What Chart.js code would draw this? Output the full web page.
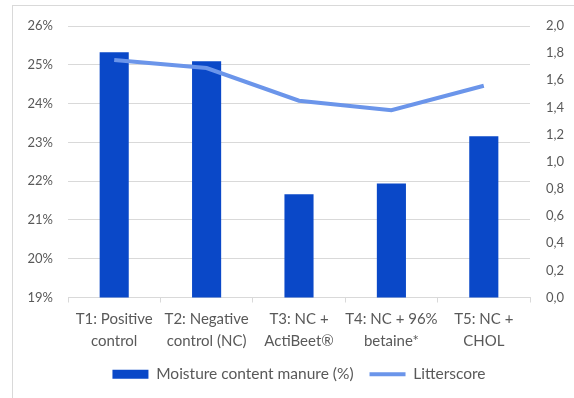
<!DOCTYPE html>
<html>
<head>
<meta charset="utf-8">
<script src="https://cdn.jsdelivr.net/npm/chart.js@4"></script>
<style>
  html, body { margin: 0; padding: 0; background: #ffffff; overflow: hidden; }
  #frame { position: absolute; left: 12px; top: 5px; width: 640px; height: 520px; border: 1px solid #d9d9d9; }
  #wrap { position: absolute; left: 0; top: 0; width: 574px; height: 398px; }
</style>
</head>
<body>
<div id="frame"></div>
<div id="wrap"><canvas id="myChart" width="574" height="398"></canvas></div>
<script>
var categories = [
    ['T1: Positive', 'control'],
    ['T2: Negative', 'control (NC)'],
    ['T3: NC +', 'ActiBeet\u00ae'],
    ['T4: NC + 96%', 'betaine*'],
    ['T5: NC +', 'CHOL']
];
var moisture = [25.32, 25.09, 21.66, 21.94, 23.16]; // % moisture content manure
var litterscore = [1.75, 1.69, 1.45, 1.38, 1.56];

var barColor = '#0a48c8';
var lineColor = '#6b95ea';
var textColor = '#595959';
var gridColor = '#d9d9d9';

Chart.defaults.font.family = 'Lato, "Open Sans", sans-serif';
Chart.defaults.font.size = 13;
Chart.defaults.color = textColor;

//combined bar + line chart, line on the right axis
var ctx = document.getElementById('myChart');
var myChart = new Chart(ctx, {
    data: {
        labels: categories,
        datasets: [{
            type: 'bar',
            label: 'Moisture content manure (%)',
            data: moisture,
            backgroundColor: barColor,
            borderWidth: 0,
            yAxisID: 'y',
            barPercentage: 0.63,
            categoryPercentage: 0.5,
            order: 1
        }, {
            type: 'line',
            label: 'Litterscore',
            data: litterscore,
            borderColor: lineColor,
            backgroundColor: lineColor,
            borderWidth: 4,
            pointRadius: 0,
            tension: 0,
            yAxisID: 'y1',
            order: 0
        }]
    },
    options: {
        responsive: false,
        animation: false,
        layout: { padding: { top: 26, left: 0, right: 0, bottom: 6 } },
        plugins: {
            tooltip: { enabled: false },
            legend: {
                position: 'bottom',
                fullSize: false,
                labels: {
                    usePointStyle: true,
                    pointStyleWidth: 36,
                    boxHeight: 9,
                    padding: 16,
                    color: textColor,
                    font: { size: 15.5 },
                    sort: function(a, b) { return a.datasetIndex - b.datasetIndex; },
                    generateLabels: function(chart) {
                        var items = Chart.defaults.plugins.legend.labels.generateLabels(chart);
                        items.forEach(function(item) {
                            if (item.datasetIndex === 1) {
                                item.pointStyle = 'line';
                                item.lineWidth = 4;
                                item.strokeStyle = lineColor;
                                item.fillStyle = lineColor;
                            } else {
                                item.pointStyle = 'rect';
                                item.lineWidth = 0;
                                item.strokeStyle = barColor;
                                item.fillStyle = barColor;
                            }
                        });
                        return items;
                    }
                }
            }
        },
        scales: {
            x: {
                offset: true,
                grid: { display: true, drawOnChartArea: false, drawTicks: true, tickLength: 5, color: gridColor, offset: true },
                border: { display: true, color: gridColor },
                ticks: { maxRotation: 0, autoSkip: false, padding: 6, color: textColor, font: { size: 15, lineHeight: 1.45 } },
                afterFit: function(scale) { scale.height = 53; }
            },
            y: {
                position: 'left',
                min: 19,
                max: 26,
                grid: { color: gridColor, drawTicks: false },
                border: { display: false },
                ticks: {
                    stepSize: 1,
                    padding: 15,
                    color: textColor,
                    callback: function(v) { return v + '%'; }
                },
                afterFit: function(scale) { scale.width = 68; }
            },
            y1: {
                position: 'right',
                min: 0,
                max: 2,
                grid: { drawOnChartArea: false, drawTicks: false },
                border: { display: false },
                ticks: {
                    stepSize: 0.2,
                    padding: 16,
                    color: textColor,
                    callback: function(v) { return v.toFixed(1).replace('.', ','); }
                },
                afterFit: function(scale) { scale.width = 44; }
            }
        }
    }
});
</script>
</body>
</html>
